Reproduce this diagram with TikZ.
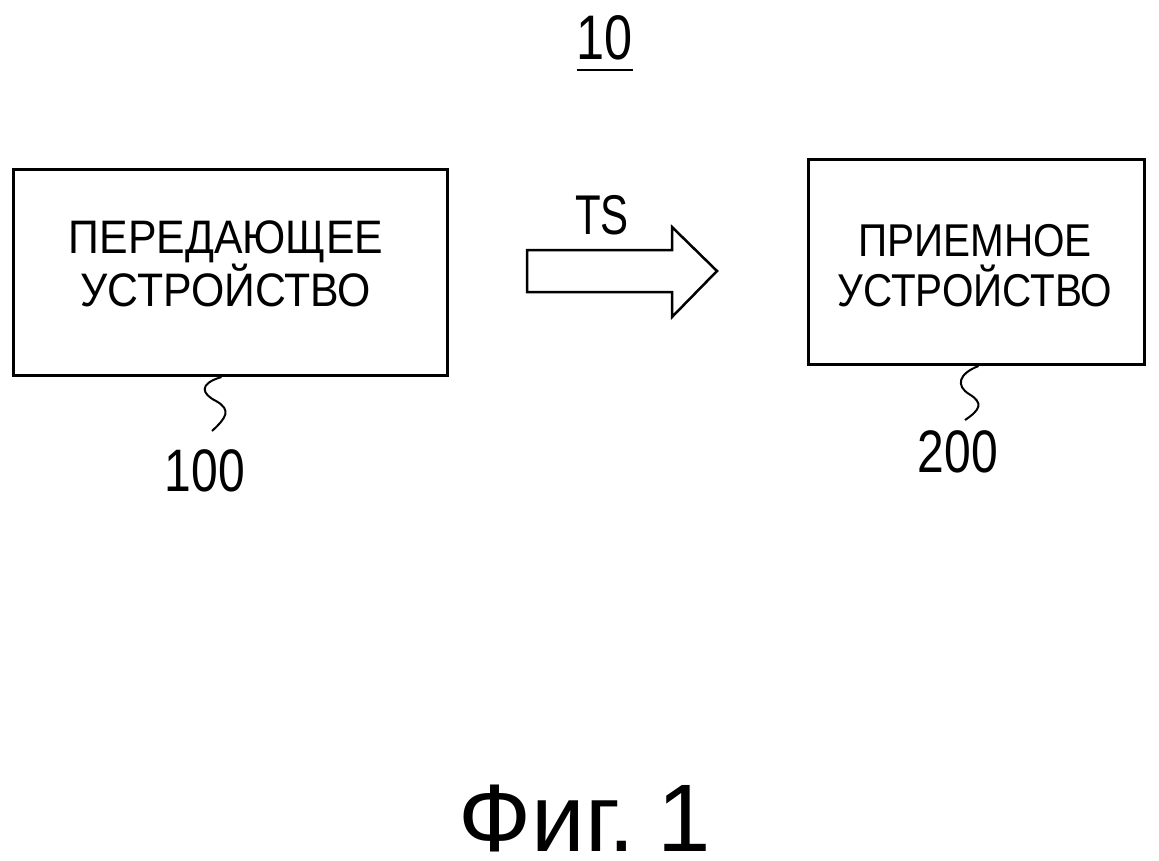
\documentclass[tikz,border=0pt]{standalone}
\usepackage{fontspec}
\setmainfont{Liberation Sans}
\newfontfamily\boxfontA[FakeStretch=0.91]{Liberation Sans}
\newfontfamily\boxfontB[FakeStretch=0.88]{Liberation Sans}
\newfontfamily\numfont[FakeStretch=0.8]{Liberation Sans}
\begin{document}
\begin{tikzpicture}[x=1pt,y=-1pt,
  box/.style={draw, line width=3pt, inner sep=0pt},
  boxtext/.style={inner sep=0pt, align=center},
  refnum/.style={inner sep=0pt, anchor=base, text depth=0pt},
  squig/.style={line width=2pt},
  blockarrow/.style={draw, line width=2.5pt, line join=miter}]
\useasboundingbox (0,0) rectangle (1159,861);
% boxes
\node[box, minimum width=434pt, minimum height=206pt, anchor=north west] (tx) at (12,168) {};
\node[box, minimum width=336pt, minimum height=205pt, anchor=north west] (rx) at (807,158) {};
\node[boxtext, font=\boxfontA\fontsize{47}{51}\selectfont] (txt) at (226,264) {ПЕРЕДАЮЩЕЕ\\УСТРОЙСТВО};
\node[boxtext, font=\boxfontB\fontsize{46}{50}\selectfont] (rxt) at (975,266) {ПРИЕМНОЕ\\УСТРОЙСТВО};
% block arrow
\draw[blockarrow] (527,250) -- (672,250) -- (672,227) -- (717,271) -- (672,317) -- (672,292) -- (527,292) -- cycle;
\node[refnum, font=\fontsize{56}{56}\selectfont] (ts) at (602,235) {\scalebox{0.75}[1]{TS}};
% reference squiggles
\coordinate (l1) at (212,431);
\coordinate (r1) at (965,420);
\draw[squig] ([xshift=-9pt]tx.south) .. controls (198,384) and (202,394) .. (216,401) .. controls (232,410) and (226,418) .. (l1);
\draw[squig] ([xshift=2pt]rx.south) .. controls (958,374) and (956,386) .. (969,394) .. controls (984,403) and (980,410) .. (r1);
\node[refnum, font=\numfont\fontsize{60}{60}\selectfont] (n100) at (205,491) {100};
\node[refnum, font=\numfont\fontsize{60}{60}\selectfont] (n200) at (958,472) {200};
% figure number
\node[refnum, font=\numfont\fontsize{63}{63}\selectfont] (n10) at (605,60) {10};
\draw[line width=2.5pt] ([yshift=-10pt]n10.base west) -- ([yshift=-10pt]n10.base east);
\node[refnum, font=\fontsize{96}{96}\selectfont] (fig) at (585,851) {Фиг.\kern-4pt\ 1};
\end{tikzpicture}
\end{document}
